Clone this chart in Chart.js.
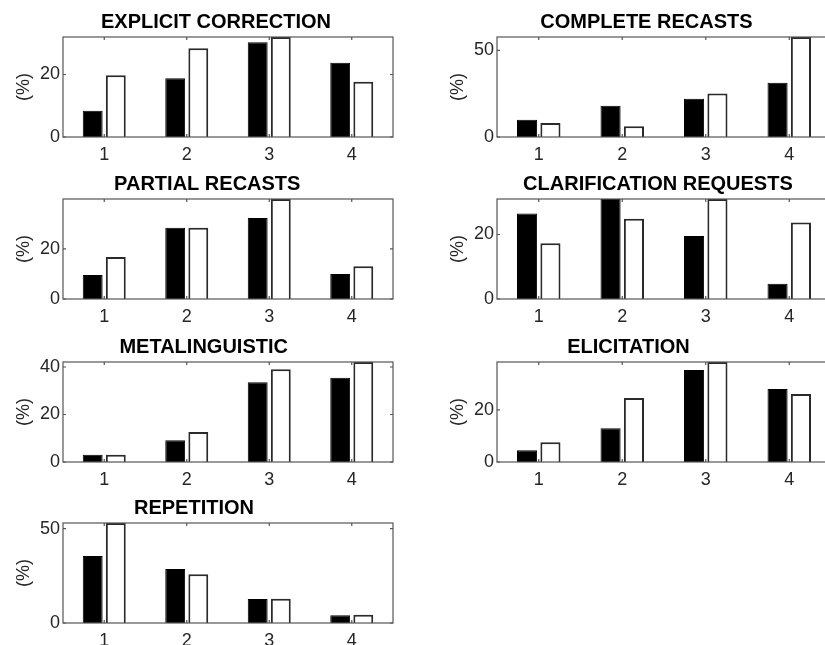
<!DOCTYPE html>
<html>
<head>
<meta charset="utf-8">
<script src="https://cdn.jsdelivr.net/npm/chart.js@4.4.1/dist/chart.umd.min.js"></script>
<style>
  html, body { margin: 0; padding: 0; background: #fff; }
  body { width: 825px; height: 645px; position: relative; overflow: hidden; }
  canvas { position: absolute; }
</style>
</head>
<body>
<script>
// data (percent)
const titles = ['EXPLICIT CORRECTION', 'COMPLETE RECASTS', 'PARTIAL RECASTS',
  'CLARIFICATION REQUESTS', 'METALINGUISTIC', 'ELICITATION', 'REPETITION'];
const categories = ['1', '2', '3', '4'];
const blackBars = [
  [8.4, 18.8, 30.3, 23.8],
  [10.0, 18.1, 22.0, 31.3],
  [9.6, 28.4, 32.3, 10.0],
  [26.5, 31.0, 19.5, 4.7],
  [3.1, 9.2, 33.6, 35.5],
  [4.5, 12.9, 35.2, 28.0],
  [35.5, 28.6, 12.7, 4.1]
];
const whiteBars = [
  [19.8, 28.4, 32.0, 17.7],
  [8.1, 6.2, 25.1, 57.7],
  [16.8, 28.4, 39.9, 13.1],
  [17.3, 24.9, 31.0, 23.7],
  [3.1, 12.6, 39.0, 42.1],
  [7.6, 24.5, 38.3, 26.0],
  [53.0, 25.9, 12.8, 4.4]
];
const yStep = [20, 50, 20, 20, 20, 20, 50];

const FONT = "'Liberation Sans', Arial, sans-serif";
const TEXT = '#262626';
const rowTops = [0, 162, 325, 486];

// matlab style box with inward ticks + title
const boxPlugin = {
  id: 'box',
  afterDatasetsDraw(chart) {
    const ctx = chart.ctx, a = chart.chartArea;
    const xs = chart.scales.x, ys = chart.scales.y;
    ctx.save();
    ctx.strokeStyle = '#555';
    ctx.lineWidth = 1.2;
    ctx.strokeRect(a.left, a.top, a.right - a.left, a.bottom - a.top);
    ctx.beginPath();
    categories.forEach((c, i) => {
      const x = xs.getPixelForValue(i);
      ctx.moveTo(x, a.bottom); ctx.lineTo(x, a.bottom - 3);
      ctx.moveTo(x, a.top); ctx.lineTo(x, a.top + 3);
    });
    ys.ticks.forEach(t => {
      const y = ys.getPixelForValue(t.value);
      ctx.moveTo(a.left, y); ctx.lineTo(a.left + 3, y);
      ctx.moveTo(a.right, y); ctx.lineTo(a.right - 3, y);
    });
    ctx.stroke();

    const txt = chart.options.plugins.box.title;
    ctx.font = 'bold 20px ' + FONT;
    ctx.fillStyle = '#000';
    ctx.textAlign = 'center';
    ctx.textBaseline = 'middle';
    const w = ctx.measureText(txt).width;
    ctx.fillText(txt, 170 + 0.2 * w, 22);
    ctx.restore();
  }
};

titles.forEach((title, i) => {
  const col = i % 2, row = Math.floor(i / 2);
  const canvas = document.createElement('canvas');
  canvas.width = 410;
  canvas.height = 162;
  canvas.style.left = (col ? 434 : 0) + 'px';
  canvas.style.top = rowTops[row] + 'px';
  document.body.appendChild(canvas);

  const step = yStep[i];
  new Chart(canvas.getContext('2d'), {
    type: 'bar',
    data: {
      labels: categories,
      datasets: [{
        label: 'A',
        data: blackBars[i],
        backgroundColor: '#000',
        borderColor: '#000',
        borderWidth: 1
      }, {
        label: 'B',
        data: whiteBars[i],
        backgroundColor: '#fff',
        borderColor: '#2a2a2a',
        borderWidth: 2
      }]
    },
    options: {
      responsive: false,
      animation: false,
      categoryPercentage: 0.56,
      barPercentage: 0.86,
      layout: { padding: { top: 37, right: col ? 13 : 17, left: 0, bottom: 0 } },
      plugins: {
        legend: { display: false },
        tooltip: { enabled: false },
        box: { title: title }
      },
      scales: {
        x: {
          grid: { display: false, drawTicks: false },
          border: { display: false },
          ticks: { color: TEXT, font: { family: FONT, size: 18 }, padding: 7 },
          afterFit: s => { s.height = 25; }
        },
        y: {
          min: 0,
          max: Math.max(...blackBars[i], ...whiteBars[i]),
          grid: { display: false, drawTicks: false },
          border: { display: false },
          ticks: { color: TEXT, font: { family: FONT, size: 18 }, padding: 3 },
          afterBuildTicks: s => {
            const t = [];
            for (let v = 0; v <= s.max; v += step) t.push({ value: v });
            s.ticks = t;
          },
          title: { display: true, text: '(%)', color: TEXT, font: { family: FONT, size: 18 }, padding: { top: 13, bottom: 0 } },
          afterFit: s => { s.width = 63; }
        }
      }
    },
    plugins: [boxPlugin]
  });
});
</script>
</body>
</html>
